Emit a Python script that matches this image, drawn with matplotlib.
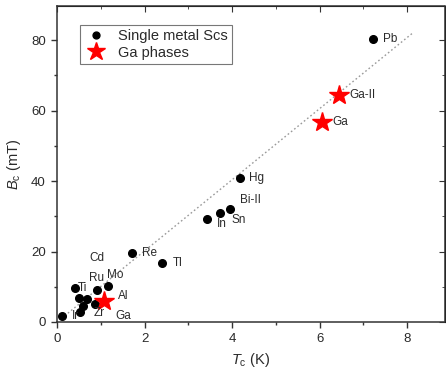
import matplotlib
matplotlib.use("Agg")
import matplotlib.pyplot as plt
from matplotlib.ticker import MultipleLocator

plt.rcParams['font.family'] = ['Liberation Sans', 'DejaVu Sans']
plt.rcParams['mathtext.fontset'] = 'custom'
plt.rcParams['mathtext.rm'] = 'Liberation Sans'
plt.rcParams['mathtext.it'] = 'Liberation Sans:italic'

# Single metal superconductors: Tc (K), Bc (mT)
metal_tc = [7.22, 4.17, 3.95, 3.73, 3.42, 2.39, 1.71, 1.17, 0.92, 0.41,
            0.50, 0.68, 0.60, 0.53, 0.87, 0.11]
metal_bc = [80.2, 40.9, 32.0, 30.8, 29.1, 16.8, 19.5, 10.2, 9.1, 9.7,
            6.7, 6.4, 4.5, 2.9, 5.1, 1.7]

# Ga phases
ga_tc = [1.08, 6.05, 6.45]
ga_bc = [6.0, 56.8, 64.4]

# Guide line (Bc ~ k * Tc)
line_tc = [0.1, 8.15]
line_bc = [1.0, 82.3]

# Labels and their text anchor (data coords, left-center)
label_text = ['Pb', 'Ga-II', 'Ga', 'Hg', 'Bi-II', 'In', 'Sn', 'Tl', 'Re',
              'Cd', 'Ru', 'Mo', 'Ti', 'Al', 'Zr', 'Ga', 'Ir']
label_x = [7.45, 6.67, 6.29, 4.39, 4.18, 3.66, 3.98, 2.65, 1.94,
           0.75, 0.73, 1.15, 0.47, 1.40, 0.83, 1.33, 0.35]
label_y = [80.3, 64.4, 56.7, 40.9, 34.6, 27.8, 28.9, 16.8, 19.6,
           18.2, 12.5, 13.3, 9.7, 7.4, 2.6, 1.7, 1.7]

fig = plt.figure(figsize=(4.46, 3.74), dpi=100)
ax = fig.add_axes([57/446, 52/374, 387.5/446, 316/374])

txt_color = '#2a2a2a'
ax.plot(line_tc, line_bc, linestyle=(0, (1.2, 1.8)), color='#9a9a9a', lw=1.0, zorder=1)
ax.plot(metal_tc, metal_bc, 'o', color='black', ms=5.5, ls='none',
        label='Single metal Scs', zorder=3)
ax.plot(ga_tc, ga_bc, '*', color='#ff0000', ms=15, ls='none',
        label='Ga phases', zorder=4)

for t, x, y in zip(label_text, label_x, label_y):
    ax.text(x, y, t, fontsize=8.5, color=txt_color, ha='left', va='center', zorder=5)

ax.set_xlim(0, 8.85)
ax.set_ylim(0, 89.7)
ax.xaxis.set_major_locator(MultipleLocator(2))
ax.xaxis.set_minor_locator(MultipleLocator(1))
ax.yaxis.set_major_locator(MultipleLocator(20))
ax.yaxis.set_minor_locator(MultipleLocator(10))
ax.tick_params(which='both', direction='out', top=False, right=False,
               labelsize=9.5, labelcolor=txt_color, width=1.0, color='#333333')
ax.tick_params(which='major', length=4.5)
ax.tick_params(which='minor', length=2.5)

# mirrored inward ticks on top and right
sec_x = ax.secondary_xaxis('top')
sec_x.xaxis.set_major_locator(MultipleLocator(2))
sec_x.xaxis.set_minor_locator(MultipleLocator(1))
sec_x.tick_params(which='both', direction='in', labeltop=False, color='#333333')
sec_x.tick_params(which='major', length=4.5)
sec_x.tick_params(which='minor', length=2.5)
sec_y = ax.secondary_yaxis('right')
sec_y.yaxis.set_major_locator(MultipleLocator(20))
sec_y.yaxis.set_minor_locator(MultipleLocator(10))
sec_y.tick_params(which='both', direction='in', labelright=False, color='#333333')
sec_y.tick_params(which='major', length=4.5)
sec_y.tick_params(which='minor', length=2.5)

for s in ax.spines.values():
    s.set_linewidth(1.1)
    s.set_color('#333333')

ax.set_xlabel(r'$\mathit{T}_{\mathrm{c}}$ (K)', fontsize=10.5, color=txt_color, labelpad=4)
ax.set_ylabel(r'$\mathit{B}_{\mathrm{c}}$ (mT)', fontsize=10.5, color=txt_color, labelpad=6)

leg = ax.legend(loc='upper left', bbox_to_anchor=(0.059, 0.94), fontsize=10.5,
                frameon=True, fancybox=False, edgecolor='#555555',
                handletextpad=0.7, borderpad=0.3, labelspacing=0.15,
                handlelength=1.6, markerscale=0.9, borderaxespad=0)
leg.get_frame().set_linewidth(0.8)
for t in leg.get_texts():
    t.set_color(txt_color)

fig.savefig('out.png', dpi=100)
